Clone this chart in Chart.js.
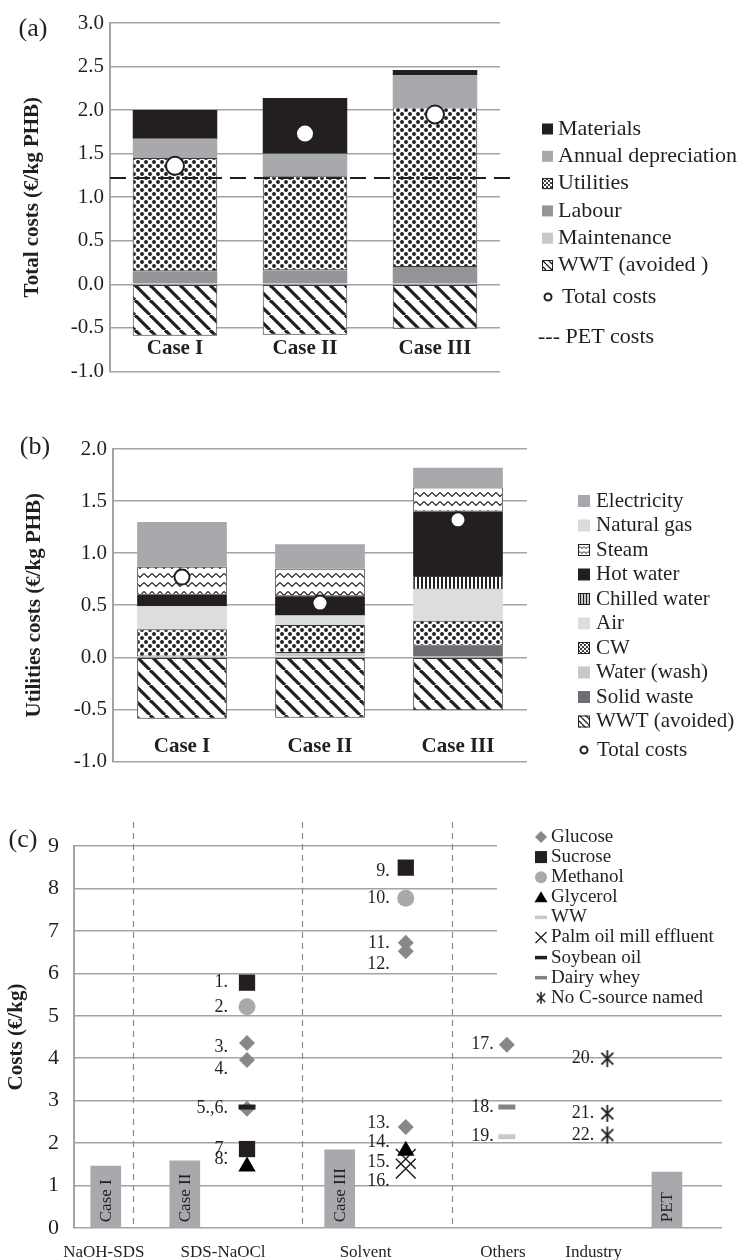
<!DOCTYPE html>
<html>
<head>
<meta charset="utf-8">
<title>PHB production costs</title>
<script src="https://cdn.jsdelivr.net/npm/chart.js@4.4.1/dist/chart.umd.min.js"></script>
<style>
  body { margin: 0; background: #fff; }
  #page { position: relative; width: 745px; height: 1260px; }
  canvas { position: absolute; left: 0; }
</style>
</head>
<body>
<div id="page">
  <canvas id="costChart" width="745" height="390" style="top:0px"></canvas>
  <canvas id="utilChart" width="745" height="380" style="top:400px"></canvas>
  <canvas id="litChart" width="745" height="460" style="top:800px"></canvas>
</div>
<script>
// ---- (a) total costs, €/kg PHB
const caseLabels = ['Case I', 'Case II', 'Case III'];
const wwtAvoided = [-0.59, -0.58, -0.51];
const maintenance = [0, 0, 0];
const labour = [0.15, 0.16, 0.20];
const utilities = [1.30, 1.08, 1.83];
const depreciation = [0.22, 0.26, 0.37];
const materials = [0.33, 0.64, 0.06];
const totalCosts = [1.36, 1.73, 1.95];
const petCost = 1.22;

// ---- (b) utilities costs, €/kg PHB
const utilWwt = [-0.59, -0.58, -0.51];
const solidWaste = [0, 0, 0.11];
const waterWash = [0, 0.04, 0];
const coolingWater = [0.27, 0.27, 0.24];
const air = [0.22, 0.09, 0.30];
const chilledWater = [0, 0, 0.13];
const hotWater = [0.11, 0.185, 0.62];
const steam = [0.27, 0.265, 0.23];
const naturalGas = [0, 0, 0];
const electricity = [0.43, 0.235, 0.19];
const utilTotals = [0.77, 0.52, 1.32];

// ---- (c) costs reported in literature, €/kg
const groupNames = ['NaOH-SDS', 'SDS-NaOCl', 'Solvent', 'Others', 'Industry'];
const barNames = ['Case I', 'Case II', 'Case III', 'PET'];
const barCosts = [1.46, 1.58, 1.84, 1.32];
const sourceNames = ['Glucose', 'Sucrose', 'Methanol', 'Glycerol', 'WW', 'Palm oil mill effluent',
  'Soybean oil', 'Dairy whey', 'No C-source named'];
const pointLabels = ['1.', '2.', '3.', '4.', '5.,6.', '', '7.', '8.', '9.', '10.', '11.', '12.',
  '13.', '14.', '15.', '16.', '17.', '18.', '19.', '20.', '21.', '22.'];
const pointCosts = [5.78, 5.21, 4.36, 3.96, 2.81, 2.85, 1.86, 1.45, 8.49, 7.77, 6.72, 6.52,
  2.38, 1.82, 1.63, 1.40, 4.32, 2.85, 2.15, 3.99, 2.70, 2.19];
const pointSource = ['Sucrose', 'Methanol', 'Glucose', 'Glucose', 'Glucose', 'Soybean oil', 'Sucrose', 'Glycerol',
  'Sucrose', 'Methanol', 'Glucose', 'Glucose', 'Glucose', 'Glycerol', 'Palm oil mill effluent', 'Palm oil mill effluent',
  'Glucose', 'Dairy whey', 'WW', 'No C-source named', 'No C-source named', 'No C-source named'];
const pointGroup = ['SDS-NaOCl', 'SDS-NaOCl', 'SDS-NaOCl', 'SDS-NaOCl', 'SDS-NaOCl', 'SDS-NaOCl', 'SDS-NaOCl', 'SDS-NaOCl',
  'Solvent', 'Solvent', 'Solvent', 'Solvent', 'Solvent', 'Solvent', 'Solvent', 'Solvent',
  'Others', 'Others', 'Others', 'Industry', 'Industry', 'Industry'];

// ---- look
const serif = '"Liberation Serif", "Times New Roman", serif';
const ink = '#231f20';
const gridGrey = '#a3a3a3';
Chart.defaults.font.family = serif;
Chart.defaults.color = ink;
Chart.defaults.animation = false;
Chart.defaults.plugins.legend.display = false;
Chart.defaults.plugins.tooltip.enabled = false;

function makePattern(kind, s) {
  const c = document.createElement('canvas');
  const g = c.getContext('2d');
  const tile = { dots: [8, 8], diag: [15, 15], zig: [8, 9], vlines: [4, 4] }[kind];
  c.width = Math.max(2, Math.round(tile[0] * s));
  c.height = Math.max(2, Math.round(tile[1] * s));
  const w = c.width, h = c.height;
  g.fillStyle = '#fff';
  g.fillRect(0, 0, w, h);
  g.fillStyle = ink;
  g.strokeStyle = ink;
  if (kind === 'dots') {
    [[0.25, 0.25], [0.75, 0.75]].forEach(([fx, fy]) => {
      g.beginPath(); g.arc(fx * w, fy * h, 1.95 * s, 0, Math.PI * 2); g.fill();
    });
  } else if (kind === 'diag') {
    g.lineWidth = 3.2 * s;
    [-w, 0, w].forEach(k => { g.beginPath(); g.moveTo(k, 0); g.lineTo(k + w, h); g.stroke(); });
  } else if (kind === 'zig') {
    g.lineWidth = Math.max(1, 1.2 * s);
    g.beginPath(); g.moveTo(0, 0.28 * h); g.lineTo(w / 2, 0.72 * h); g.lineTo(w, 0.28 * h); g.stroke();
  } else {
    g.fillRect(w * 0.25, 0, w * 0.5, h);
  }
  return g.createPattern(c, 'repeat');
}

const pat = { dots: makePattern('dots', 1), diag: makePattern('diag', 1), zig: makePattern('zig', 1), vlines: makePattern('vlines', 1) };
const smallPat = { dots: makePattern('dots', 0.55), diag: makePattern('diag', 0.4), zig: makePattern('zig', 0.5), vlines: makePattern('vlines', 0.75) };

function barSet(label, data, fill, legendFill) {
  const outlined = typeof fill !== 'string';
  return {
    type: 'bar', label, data,
    backgroundColor: fill, legendFill: legendFill || fill, outlined,
    borderColor: '#3a3a3a', borderWidth: outlined ? 1 : 0, borderSkipped: false,
    categoryPercentage: 1, barPercentage: 0.65, order: 1
  };
}

function totalSet(data, r) {
  return {
    type: 'line', label: 'Total costs', data, stack: 'total', showLine: false,
    pointRadius: r, pointBackgroundColor: '#fff', pointBorderColor: ink, pointBorderWidth: 2, order: 0
  };
}

function valueAxis(o) {
  return {
    stacked: o.stacked, min: o.min, max: o.max,
    ticks: { stepSize: o.step, padding: o.tickPad, font: { size: o.tickSize }, color: ink, callback: o.fmt },
    grid: { color: gridGrey, lineWidth: 1.5, drawTicks: false },
    border: { display: true, color: gridGrey, width: 2 },
    title: { display: true, text: o.title, color: ink, font: { size: 21, weight: 'bold' }, padding: { top: o.titlePad, bottom: 0 } },
    afterFit: s => { s.width = o.width; }
  };
}

const oneDecimal = v => v.toFixed(1);

function panelLetter(text, x, y) {
  return {
    id: 'panelLetter',
    afterDraw(chart) {
      const ctx = chart.ctx;
      ctx.save();
      ctx.font = '26px ' + serif;
      ctx.fillStyle = ink;
      ctx.textAlign = 'center';
      ctx.textBaseline = 'middle';
      ctx.fillText(text, x, y);
      ctx.restore();
    }
  };
}

function caseNames(offset) {
  return {
    id: 'caseNames',
    afterDraw(chart) {
      const { ctx, chartArea, scales: { x } } = chart;
      ctx.save();
      ctx.font = 'bold 21px ' + serif;
      ctx.fillStyle = ink;
      ctx.textAlign = 'center';
      ctx.textBaseline = 'middle';
      chart.data.labels.forEach((l, i) => ctx.fillText(l, x.getPixelForValue(i), chartArea.bottom - offset));
      ctx.restore();
    }
  };
}

function sideLegend(cfg) {
  return {
    id: 'sideLegend',
    afterDraw(chart) {
      const ctx = chart.ctx;
      const items = chart.data.datasets.filter(d => d.type === 'bar').slice().reverse();
      ctx.save();
      ctx.font = cfg.size + 'px ' + serif;
      ctx.textBaseline = 'middle';
      ctx.textAlign = 'left';
      items.forEach((ds, i) => {
        const y = cfg.top + i * cfg.step;
        ctx.fillStyle = ds.legendFill;
        ctx.fillRect(cfg.boxX, y - cfg.box / 2, cfg.box, cfg.box);
        if (ds.outlined) {
          ctx.strokeStyle = ink;
          ctx.lineWidth = 1;
          ctx.strokeRect(cfg.boxX + 0.5, y - cfg.box / 2 + 0.5, cfg.box - 1, cfg.box - 1);
        }
        ctx.fillStyle = ink;
        ctx.fillText(ds.label, cfg.textX, y);
      });
      ctx.beginPath();
      ctx.arc(cfg.circleX, cfg.totalY, 3.5, 0, Math.PI * 2);
      ctx.fillStyle = '#fff';
      ctx.fill();
      ctx.strokeStyle = ink;
      ctx.lineWidth = 2;
      ctx.stroke();
      ctx.fillStyle = ink;
      ctx.fillText('Total costs', cfg.circleTextX, cfg.totalY);
      (cfg.extra || []).forEach(e => ctx.fillText(e.text, e.x, e.y));
      ctx.restore();
    }
  };
}

const petLine = {
  id: 'petLine',
  afterDatasetsDraw(chart) {
    const { ctx, chartArea, scales: { y } } = chart;
    const py = y.getPixelForValue(petCost);
    ctx.save();
    ctx.strokeStyle = ink;
    ctx.lineWidth = 2;
    ctx.setLineDash([16, 8]);
    ctx.beginPath();
    ctx.moveTo(chartArea.left, py);
    ctx.lineTo(chartArea.right + 12, py);
    ctx.stroke();
    ctx.restore();
  }
};

// ---- (a)
new Chart(document.getElementById('costChart'), {
  type: 'bar',
  data: {
    labels: caseLabels,
    datasets: [
      barSet('WWT (avoided )', wwtAvoided, pat.diag, smallPat.diag),
      barSet('Maintenance', maintenance, '#c7c8ca'),
      barSet('Labour', labour, '#939598'),
      barSet('Utilities', utilities, pat.dots, smallPat.dots),
      barSet('Annual depreciation', depreciation, '#a7a9ac'),
      barSet('Materials', materials, ink),
      totalSet(totalCosts, 9)
    ]
  },
  options: {
    responsive: false,
    layout: { padding: { top: 23, right: 245, bottom: 17, left: 0 } },
    scales: {
      x: { stacked: true, display: false },
      y: valueAxis({ stacked: true, min: -1, max: 3, step: 0.5, tickPad: 6, tickSize: 21, fmt: oneDecimal,
        title: 'Total costs (€/kg PHB)', titlePad: 20, width: 110 })
    }
  },
  plugins: [petLine, caseNames(23), panelLetter('(a)', 33, 29),
    sideLegend({ size: 22, top: 129, step: 27.3, boxX: 542, box: 11, textX: 558, totalY: 297, circleX: 548, circleTextX: 562,
      extra: [{ text: '--- PET costs', x: 538, y: 337 }] })]
});

// ---- (b)
new Chart(document.getElementById('utilChart'), {
  type: 'bar',
  data: {
    labels: caseLabels,
    datasets: [
      barSet('WWT (avoided)', utilWwt, pat.diag, smallPat.diag),
      barSet('Solid waste', solidWaste, '#6d6e71'),
      barSet('Water (wash)', waterWash, '#c7c8ca'),
      barSet('CW', coolingWater, pat.dots, smallPat.dots),
      barSet('Air', air, '#dcdddf'),
      barSet('Chilled water', chilledWater, pat.vlines, smallPat.vlines),
      barSet('Hot water', hotWater, ink),
      barSet('Steam', steam, pat.zig, smallPat.zig),
      barSet('Natural gas', naturalGas, '#d9dadc'),
      barSet('Electricity', electricity, '#a7a9ac'),
      totalSet(utilTotals, 7.5)
    ]
  },
  options: {
    responsive: false,
    layout: { padding: { top: 49, right: 218, bottom: 12, left: 0 } },
    scales: {
      x: { stacked: true, display: false },
      y: valueAxis({ stacked: true, min: -1, max: 2, step: 0.5, tickPad: 6, tickSize: 21, fmt: oneDecimal,
        title: 'Utilities costs (€/kg PHB)', titlePad: 22, width: 113 })
    }
  },
  plugins: [caseNames(15), panelLetter('(b)', 35, 47),
    sideLegend({ size: 21, top: 101, step: 24.5, boxX: 578, box: 12, textX: 596, totalY: 350, circleX: 584, circleTextX: 597 })]
});

// ---- (c)
const groupLabelX = [0.46, 2.3, 4.5, 6.62, 8.02];
const pointGroupX = { 'SDS-NaOCl': 2.67, 'Solvent': 5.12, 'Others': 6.68, 'Industry': 8.23 };
const barX = [0.49, 1.71, 4.10, 9.15];
const dividerX = [0.91, 3.52, 5.83];
const labelGap = { 'SDS-NaOCl': 19, 'Solvent': 16, 'Others': 13, 'Industry': 13 };
const labelNudge = { '3.': 4, '4.': 9, '8.': -7, '9.': 4, '12.': 13, '13.': -4, '14.': -8, '15.': 3, '16.': 13 };

function asteriskImage(size, lw) {
  const c = document.createElement('canvas');
  c.width = c.height = size;
  const g = c.getContext('2d');
  const m = size / 2, r = size / 2 - 1;
  g.strokeStyle = ink;
  g.lineWidth = lw;
  g.beginPath();
  g.moveTo(m, m - r); g.lineTo(m, m + r);
  g.moveTo(m - r * 0.7, m - r * 0.7); g.lineTo(m + r * 0.7, m + r * 0.7);
  g.moveTo(m - r * 0.7, m + r * 0.7); g.lineTo(m + r * 0.7, m - r * 0.7);
  g.stroke();
  return c;
}

const markerStyle = {
  'Glucose': { pointStyle: 'rectRot', pointRadius: 8, pointBackgroundColor: '#878889', pointBorderWidth: 0, order: 3 },
  'Sucrose': { pointStyle: 'rect', pointRadius: 11.5, pointBackgroundColor: ink, pointBorderWidth: 0, order: 3 },
  'Methanol': { pointStyle: 'circle', pointRadius: 8.5, pointBackgroundColor: '#a7a9ac', pointBorderWidth: 0, order: 3 },
  'Glycerol': { pointStyle: 'triangle', pointRadius: 10, pointBackgroundColor: '#000', pointBorderWidth: 0, order: 1 },
  'WW': { pointStyle: 'line', pointRadius: 8.5, pointBorderColor: '#c8c9cb', pointBorderWidth: 5, order: 2 },
  'Palm oil mill effluent': { pointStyle: 'crossRot', pointRadius: 14, pointBorderColor: ink, pointBorderWidth: 1.5, order: 2 },
  'Soybean oil': { pointStyle: 'line', pointRadius: 8.5, pointBorderColor: ink, pointBorderWidth: 5, order: 0 },
  'Dairy whey': { pointStyle: 'line', pointRadius: 8.5, pointBorderColor: '#808285', pointBorderWidth: 5, order: 2 },
  'No C-source named': { pointStyle: asteriskImage(19, 1.8), order: 2 }
};

const pointSets = sourceNames.map(src => Object.assign({
  type: 'scatter', label: src,
  data: pointCosts
    .map((v, i) => ({ x: pointGroupX[pointGroup[i]], y: v, id: pointLabels[i], group: pointGroup[i], src: pointSource[i] }))
    .filter(p => p.src === src)
}, markerStyle[src]));

const dividers = {
  id: 'dividers',
  beforeDatasetsDraw(chart) {
    const { ctx, chartArea, scales: { x } } = chart;
    ctx.save();
    ctx.strokeStyle = '#8a8a8a';
    ctx.lineWidth = 1.2;
    ctx.setLineDash([6, 5]);
    dividerX.forEach(v => {
      const px = Math.round(x.getPixelForValue(v)) + 0.5;
      ctx.beginPath();
      ctx.moveTo(px, chartArea.top - 24);
      ctx.lineTo(px, chartArea.bottom);
      ctx.stroke();
    });
    ctx.restore();
  }
};

const litText = {
  id: 'litText',
  afterDatasetsDraw(chart) {
    const { ctx, chartArea, scales: { x } } = chart;
    ctx.save();
    ctx.fillStyle = ink;
    // names inside the bars
    ctx.font = '17px ' + serif;
    ctx.textAlign = 'left';
    ctx.textBaseline = 'middle';
    chart.getDatasetMeta(0).data.forEach((bar, i) => {
      ctx.save();
      ctx.translate(bar.x, bar.base - 5);
      ctx.rotate(-Math.PI / 2);
      ctx.fillText(barNames[i], 0, 1);
      ctx.restore();
    });
    // point numbers
    ctx.font = '18px ' + serif;
    ctx.textAlign = 'right';
    chart.data.datasets.forEach((ds, di) => {
      if (ds.type !== 'scatter') return;
      chart.getDatasetMeta(di).data.forEach((pt, j) => {
        const raw = ds.data[j];
        if (!raw.id) return;
        ctx.fillText(raw.id, pt.x - labelGap[raw.group], pt.y + (labelNudge[raw.id] || 0));
      });
    });
    // group names under the axis
    ctx.font = '17px ' + serif;
    ctx.textAlign = 'center';
    groupNames.forEach((g, i) => ctx.fillText(g, x.getPixelForValue(groupLabelX[i]), chartArea.bottom + 25));
    ctx.restore();
  }
};

function legendMarker(ctx, src, x, y) {
  ctx.save();
  const st = markerStyle[src];
  ctx.fillStyle = st.pointBackgroundColor || ink;
  ctx.strokeStyle = st.pointBorderColor || ink;
  ctx.beginPath();
  if (src === 'Glucose') {
    ctx.moveTo(x, y - 6); ctx.lineTo(x + 6, y); ctx.lineTo(x, y + 6); ctx.lineTo(x - 6, y); ctx.closePath(); ctx.fill();
  } else if (src === 'Sucrose') {
    ctx.fillRect(x - 6, y - 6, 12, 12);
  } else if (src === 'Methanol') {
    ctx.arc(x, y, 6, 0, Math.PI * 2); ctx.fill();
  } else if (src === 'Glycerol') {
    ctx.moveTo(x, y - 6); ctx.lineTo(x + 6.5, y + 5); ctx.lineTo(x - 6.5, y + 5); ctx.closePath(); ctx.fill();
  } else if (src === 'Palm oil mill effluent') {
    ctx.lineWidth = 1.3;
    ctx.moveTo(x - 5.5, y - 5.5); ctx.lineTo(x + 5.5, y + 5.5); ctx.moveTo(x - 5.5, y + 5.5); ctx.lineTo(x + 5.5, y - 5.5); ctx.stroke();
  } else if (src === 'No C-source named') {
    ctx.drawImage(asteriskImage(14, 1.5), x - 7, y - 7);
  } else {
    ctx.lineWidth = 3.5;
    ctx.moveTo(x - 6, y); ctx.lineTo(x + 6, y); ctx.stroke();
  }
  ctx.restore();
}

const litLegend = {
  id: 'litLegend',
  afterDraw(chart) {
    const ctx = chart.ctx;
    ctx.save();
    ctx.fillStyle = '#fff';
    ctx.fillRect(497, 15, 248, 195);
    ctx.font = '19px ' + serif;
    ctx.textAlign = 'left';
    ctx.textBaseline = 'middle';
    sourceNames.forEach((src, i) => {
      const y = 37 + i * 20.1;
      legendMarker(ctx, src, 541, y);
      ctx.fillStyle = ink;
      ctx.fillText(src, 551, y);
    });
    ctx.restore();
  }
};

new Chart(document.getElementById('litChart'), {
  type: 'bar',
  data: {
    datasets: [
      { type: 'bar', label: 'Process cases', data: barNames.map((n, i) => ({ x: barX[i], y: barCosts[i] })),
        backgroundColor: '#a7a9ac', barThickness: 30, order: 5 },
      ...pointSets
    ]
  },
  options: {
    responsive: false,
    layout: { padding: { top: 46, right: 23, bottom: 32, left: 0 } },
    scales: {
      x: { type: 'linear', min: 0, max: 10, offset: false, display: false },
      y: valueAxis({ stacked: false, min: 0, max: 9, step: 1, tickPad: 15, tickSize: 22, fmt: v => v,
        title: 'Costs (€/kg)', titlePad: 4, width: 74 })
    }
  },
  plugins: [dividers, litText, litLegend, panelLetter('(c)', 23, 40)]
});
</script>
</body>
</html>
